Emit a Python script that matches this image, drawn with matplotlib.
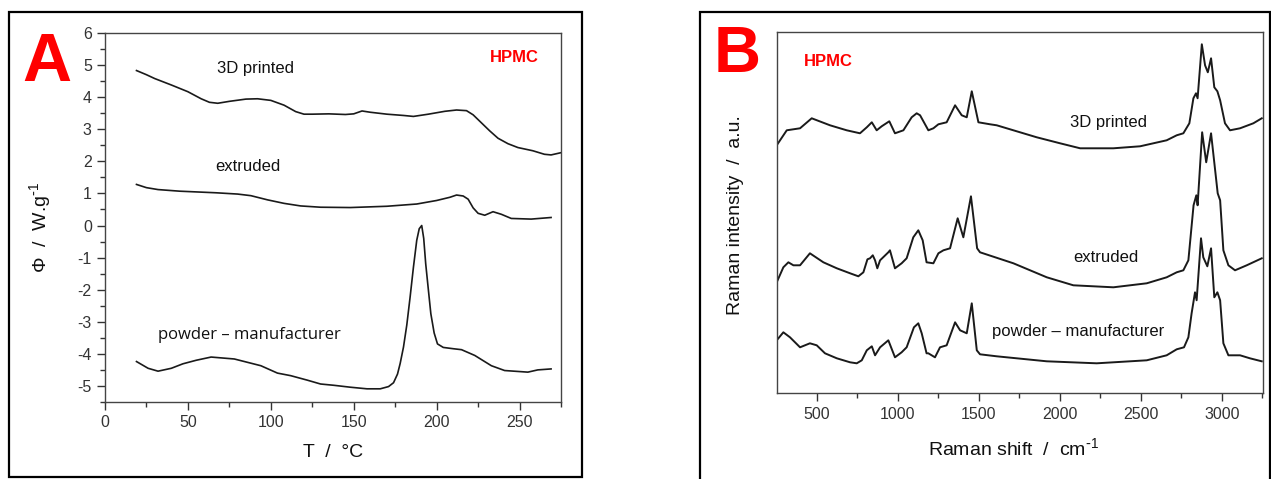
import matplotlib
matplotlib.use("Agg")
import matplotlib.pyplot as plt
from matplotlib.patches import Rectangle
from matplotlib.ticker import MultipleLocator, NullLocator

plt.rcParams['font.family'] = ['Liberation Sans', 'DejaVu Sans']
plt.rcParams['mathtext.default'] = 'regular'
plt.rcParams['axes.unicode_minus'] = False

# --- DSC curves (panel A), T in degC, heat flow in W/g ---
t_printed = [19, 25, 30, 40, 50, 58, 63, 68, 75, 85, 92, 100, 108, 115, 120, 125, 135,
             145, 150, 155, 160, 170, 180, 186, 195, 205, 212, 218, 222, 227, 232, 237,
             243, 249, 258, 265, 269, 275]
phi_printed = [4.83, 4.7, 4.58, 4.38, 4.17, 3.95, 3.84, 3.81, 3.87, 3.94, 3.95, 3.9,
               3.75, 3.55, 3.47, 3.47, 3.48, 3.46, 3.48, 3.57, 3.53, 3.47, 3.43, 3.4,
               3.47, 3.56, 3.6, 3.58, 3.45, 3.2, 2.95, 2.72, 2.55, 2.43, 2.33, 2.22,
               2.2, 2.27]

t_extruded = [19, 25, 32, 45, 67, 80, 88, 98, 108, 118, 130, 148, 170, 188, 200, 208,
              212, 216, 219, 222, 225, 229, 234, 239, 245, 257, 269]
phi_extruded = [1.28, 1.18, 1.12, 1.07, 1.02, 0.98, 0.93, 0.8, 0.69, 0.61, 0.57, 0.56,
                0.6, 0.67, 0.78, 0.88, 0.95, 0.92, 0.82, 0.55, 0.38, 0.32, 0.43, 0.35,
                0.22, 0.2, 0.25]

t_powder = [19, 26, 32, 40, 47, 55, 64, 78, 94, 104, 112, 122, 130, 138, 148, 158,
            166, 171, 174, 176.4, 178, 180, 182, 184, 186, 188, 189.5, 191, 192.2,
            193.4, 195, 196.5, 198.5, 200.5, 204, 210, 215, 223, 233, 241, 255, 261, 269]
phi_powder = [-4.24, -4.45, -4.54, -4.45, -4.31, -4.2, -4.1, -4.16, -4.37, -4.6,
              -4.68, -4.82, -4.94, -4.98, -5.04, -5.09, -5.09, -5.02, -4.9, -4.63,
              -4.3, -3.79, -3.1, -2.23, -1.3, -0.46, -0.1, 0.0, -0.4, -1.19, -2.0,
              -2.75, -3.35, -3.69, -3.8, -3.84, -3.87, -4.05, -4.37, -4.52, -4.57,
              -4.5, -4.47]

# --- Raman spectra (panel B), shift in cm-1, intensity in a.u. ---
w_printed = [253, 315, 397, 469, 582, 685, 767, 809, 840, 870, 901, 948, 983, 1035,
             1086, 1117, 1138, 1189, 1220, 1251, 1302, 1354, 1395, 1426, 1457, 1498,
             1570, 1611, 1755, 1858, 2002, 2126, 2331, 2496, 2660, 2722, 2763, 2800,
             2825, 2841, 2851, 2877, 2897, 2914, 2934, 2954, 2973, 2990, 3020, 3051,
             3113, 3195, 3247]
i_printed = [248, 263, 265, 275, 268, 263, 260, 266, 271, 263, 267, 272, 260, 263,
             276, 280, 278, 263, 265, 269, 271, 288, 278, 276, 302, 271,
             269, 268, 261, 256, 250, 245, 245, 247, 253, 258, 260, 270,
             295, 300, 295, 349, 328, 321, 335, 306, 302, 293, 270, 263,
             265, 270, 275]

w_extruded = [253, 294, 325, 356, 397, 458, 541, 624, 706, 757, 788, 813, 829, 846,
              860, 874, 891, 942, 952, 983, 1024, 1055, 1096, 1127, 1154, 1178, 1220,
              1251, 1282, 1323, 1370, 1405, 1452, 1490, 1508, 1714, 1920, 2084, 2331,
              2537, 2660, 2722, 2763, 2794, 2826, 2843, 2851, 2879, 2904, 2934, 2975,
              2990, 3010, 3041, 3082, 3154, 3247]
i_extruded = [111, 126, 131, 128, 128, 140, 131, 125, 120, 117, 121, 134, 135, 138,
              133, 125, 133, 141, 143, 125, 130, 135, 156, 163, 153, 131, 130,
              140, 143, 145, 175, 156, 197, 145, 141, 130, 116, 108, 106,
              110, 116, 121, 123, 133, 188, 198, 188, 261, 231, 260, 200,
              193, 143, 128, 123, 128, 135]

w_powder = [253, 294, 335, 397, 458, 500, 551, 624, 706, 747, 778, 809, 840, 860, 891,
            942, 983, 1024, 1055, 1100, 1127, 1148, 1178, 1189, 1230, 1261, 1302, 1354,
            1385, 1426, 1457, 1488, 1508, 1611, 1920, 2228, 2537, 2660, 2722, 2767,
            2794, 2814, 2835, 2845, 2872, 2886, 2911, 2934, 2954, 2973, 2990, 3010,
            3041, 3113, 3174, 3247]
i_powder = [53, 61, 56, 46, 50, 48, 40, 35, 31, 30, 33, 43, 47, 38, 46,
            53, 36, 41, 46, 66, 70, 60, 40, 40, 36, 46, 48, 71,
            63, 60, 90, 43, 39, 37, 32, 30, 33, 38, 44, 46,
            56, 80, 101, 93, 155, 136, 127, 145, 96, 101, 93, 50,
            38, 38, 35, 32]

line_col = '#1a1a1a'
red = '#ff0000'
tick_col = '#333333'

fig = plt.figure(figsize=(12.71, 4.79), dpi=100)

# outer frames around both panels
fig.patches.append(Rectangle((9 / 1271, 1 - 477 / 479), 573 / 1271, 465 / 479,
                             transform=fig.transFigure, fill=False, lw=1.6, ec='black'))
fig.patches.append(Rectangle((700 / 1271, -0.02), 570 / 1271, 1 - 12 / 479 + 0.02,
                             transform=fig.transFigure, fill=False, lw=1.6, ec='black'))

# ---------------- panel A ----------------
ax1 = fig.add_axes([0.0826, 0.1608, 0.3588, 0.7703])
ax1.plot(t_printed, phi_printed, color=line_col, lw=1.2)
ax1.plot(t_extruded, phi_extruded, color=line_col, lw=1.2)
ax1.plot(t_powder, phi_powder, color=line_col, lw=1.2)
ax1.set_xlim(0, 275)
ax1.set_ylim(-5.5, 6)
ax1.xaxis.set_major_locator(MultipleLocator(50))
ax1.xaxis.set_minor_locator(MultipleLocator(25))
ax1.yaxis.set_major_locator(MultipleLocator(1))
ax1.yaxis.set_minor_locator(MultipleLocator(0.5))
ax1.tick_params(which='major', direction='out', length=6, width=1, colors=tick_col,
                labelsize=11.5, top=False, right=False)
ax1.tick_params(which='minor', direction='out', length=3.5, width=1, colors=tick_col,
                top=False, right=False)
for sp in ax1.spines.values():
    sp.set_color('#444444')
    sp.set_linewidth(1)

ax1.text(91, 4.88, '3D printed', fontsize=12, ha='center', va='center', color='#111111')
ax1.text(86, 1.85, 'extruded', fontsize=12, ha='center', va='center', color='#111111')
ax1.text(87, -3.42, 'powder \u2013 manufacturer', fontsize=12, ha='center', va='center',
         color='#111111', family=['Open Sans', 'DejaVu Sans'])
ax1.text(247, 5.23, 'HPMC', fontsize=12, fontweight='bold', ha='center', va='center', color=red)
ax1.text(-0.1425, 0.474, r'\u03a6  /  W.g$^{\text{-}1}$'.replace(r'\u03a6', '\u03a6'),
         transform=ax1.transAxes, rotation=90,
         fontsize=14, ha='center', va='center', color='#111111')
ax1.text(0.5, -0.138, 'T  /  \u00b0C', transform=ax1.transAxes,
         fontsize=14, ha='center', va='center', color='#111111')

# ---------------- panel B ----------------
ax2 = fig.add_axes([0.6111, 0.1789, 0.3824, 0.7537])
ax2.plot(w_printed, i_printed, color=line_col, lw=1.4)
ax2.plot(w_extruded, i_extruded, color=line_col, lw=1.4)
ax2.plot(w_powder, i_powder, color=line_col, lw=1.4)
ax2.set_xlim(253, 3253)
ax2.set_ylim(0, 361)
ax2.xaxis.set_major_locator(MultipleLocator(500))
ax2.xaxis.set_minor_locator(MultipleLocator(250))
ax2.yaxis.set_major_locator(NullLocator())
ax2.tick_params(which='major', direction='out', length=6, width=1, colors=tick_col,
                labelsize=11.5, top=False, right=False)
ax2.tick_params(which='minor', direction='out', length=3.5, width=1, colors=tick_col,
                top=False, right=False)
for sp in ax2.spines.values():
    sp.set_color('#444444')
    sp.set_linewidth(1)

ax2.text(2301, 271, '3D printed', fontsize=12, ha='center', va='center', color='#111111')
ax2.text(2286, 136, 'extruded', fontsize=12, ha='center', va='center', color='#111111')
ax2.text(2116, 62, 'powder \u2013 manufacturer', fontsize=12, ha='center', va='center',
         color='#111111')
ax2.text(570, 332, 'HPMC', fontsize=12, fontweight='bold', ha='center', va='center', color=red)
ax2.text(-0.0858, 0.494, 'Raman intensity  /  a.u.', transform=ax2.transAxes, rotation=90,
         fontsize=14, ha='center', va='center', color='#111111')
ax2.text(0.488, -0.152, r'Raman shift  /  cm$^{\text{-}1}$', transform=ax2.transAxes,
         fontsize=14, ha='center', va='center', color='#111111')

# panel letters
fig.text(22 / 1271, 1 - 81 / 479, 'A', fontsize=49, fontweight='bold', color=red,
         ha='left', va='baseline')
fig.text(714 / 1271, 1 - 72 / 479, 'B', fontsize=47, fontweight='bold', color=red,
         ha='left', va='baseline')

fig.savefig('out.png', dpi=100)
